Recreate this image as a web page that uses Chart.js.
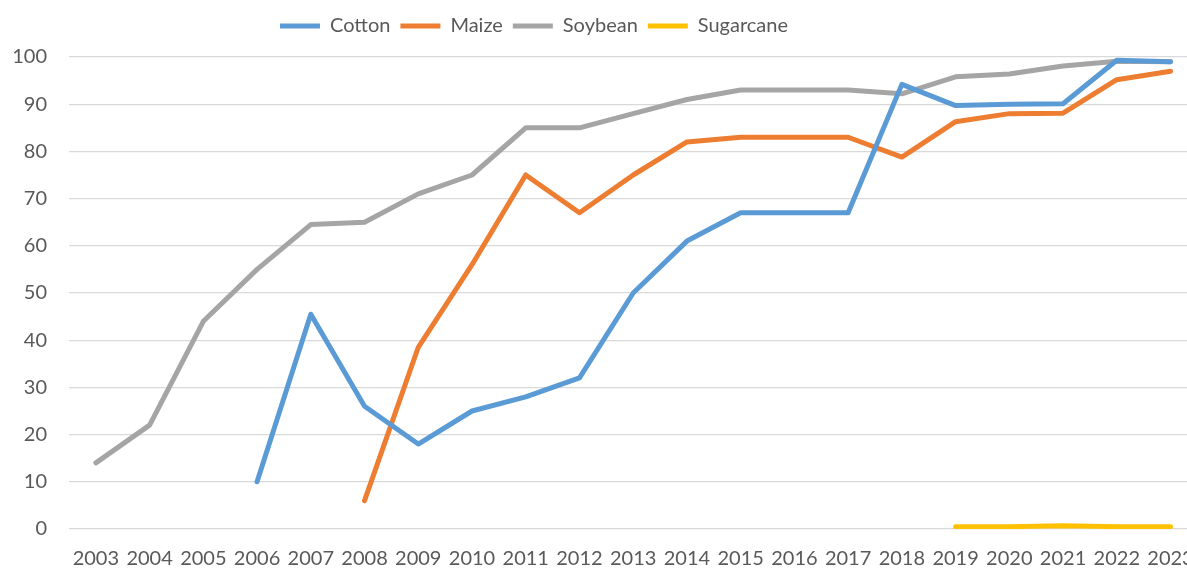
<!DOCTYPE html>
<html>
<head>
<meta charset="utf-8">
<script src="https://cdn.jsdelivr.net/npm/chart.js@4/dist/chart.umd.min.js"></script>
<style>
  html, body { margin: 0; padding: 0; background: #fff; overflow: hidden; }
  #wrap { width: 1212px; height: 570px; }
</style>
</head>
<body>
<div id="wrap"><canvas id="chart"></canvas></div>
<script>
const years = ['2003','2004','2005','2006','2007','2008','2009','2010','2011','2012','2013',
               '2014','2015','2016','2017','2018','2019','2020','2021','2022','2023'];
const cotton    = [null, null, null, 10, 45.5, 26, 18, 25, 28, 32, 50, 61, 67, 67, 67, 94.2, 89.7, 90, 90.1, 99.3, 99];
const maize     = [null, null, null, null, null, 6, 38.5, 56, 75, 67, 75, 82, 83, 83, 83, 78.8, 86.3, 88, 88.1, 95.2, 97];
const soybean   = [14, 22, 44, 55, 64.5, 65, 71, 75, 85, 85, 88, 91, 93, 93, 93, 92.2, 95.8, 96.4, 98.1, 99.1, 99];
const sugarcane = [null, null, null, null, null, null, null, null, null, null, null, null, null, null, null, null, 0.5, 0.5, 0.7, 0.5, 0.5];
const yTicks = [0, 10, 20, 30, 40, 50, 60, 70, 80, 90, 100];

const font = { family: 'Lato, "Open Sans", sans-serif', size: 20 };
const textColor = '#595959';

function series(label, data, color) {
  return {
    label, data,
    borderColor: color, backgroundColor: color,
    borderWidth: 5, borderCapStyle: 'round', borderJoinStyle: 'round',
    pointRadius: 0, pointHoverRadius: 0, tension: 0, fill: false
  };
}

// legend sits a bit left of centre and has more room below it than chart.js gives
const legendTweak = {
  id: 'legendTweak',
  afterInit(chart) {
    const lg = chart.legend;
    const fit = lg.fit;
    lg.fit = function () { fit.call(this); this.height += 11; };
  },
  beforeDraw(chart) { if (chart.legend) chart.legend.right = chart.width - 144; }
};

new Chart(document.getElementById('chart'), {
  type: 'line',
  data: {
    labels: years,
    datasets: [
      series('Cotton', cotton, '#5B9BD5'),
      series('Maize', maize, '#ED7D31'),
      series('Soybean', soybean, '#A5A5A5'),
      series('Sugarcane', sugarcane, '#FFC000')
    ]
  },
  options: {
    responsive: true, maintainAspectRatio: false, animation: false,
    layout: { padding: { top: 6, right: 12, left: 0, bottom: 0 } },
    plugins: {
      legend: {
        position: 'top',
        labels: { usePointStyle: true, pointStyle: 'line', pointStyleWidth: 40, color: textColor, font, padding: 10 }
      },
      tooltip: { enabled: false }
    },
    scales: {
      x: {
        offset: true,
        grid: { display: false, drawTicks: false },
        border: { display: false },
        ticks: { color: textColor, font, padding: 18, maxRotation: 0, autoSkip: false },
        afterFit(s) { s.height = 41; }
      },
      y: {
        min: 0, max: 100,
        afterBuildTicks(s) { s.ticks = yTicks.map(v => ({ value: v })); },
        grid: { color: '#D9D9D9', lineWidth: 1.3, drawTicks: false },
        border: { display: false },
        ticks: { color: textColor, font, padding: 22 },
        afterFit(s) { s.width = 69; }
      }
    }
  },
  plugins: [legendTweak]
});
</script>
</body>
</html>
